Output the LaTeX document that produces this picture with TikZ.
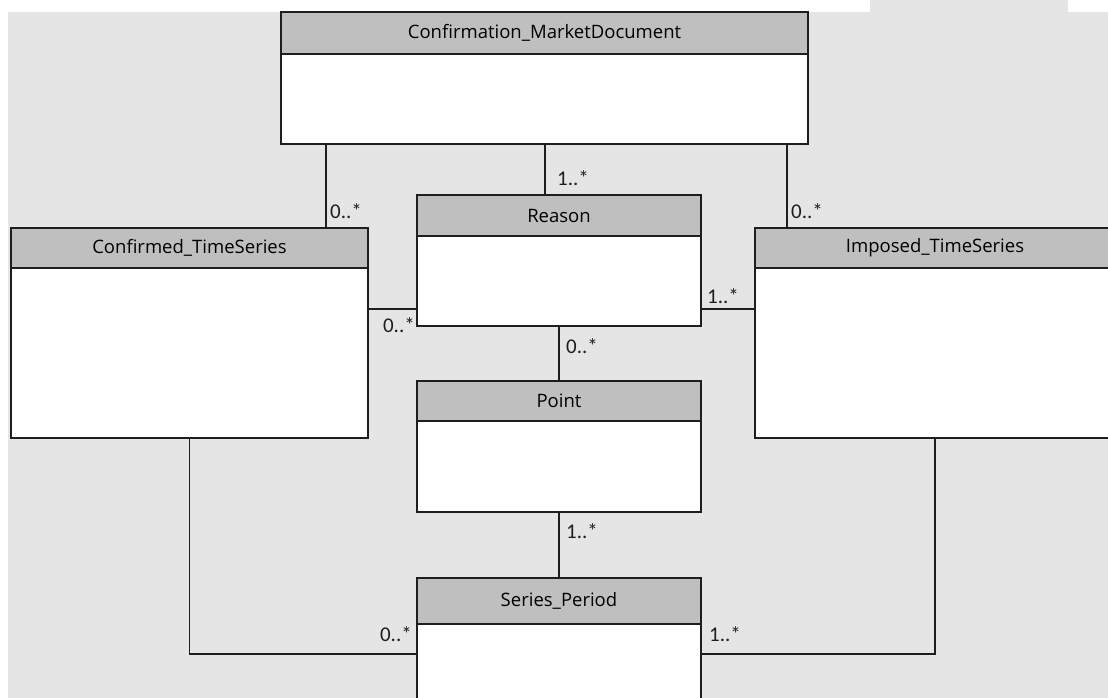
\documentclass[tikz,border=0pt]{standalone}
\usepackage{fontspec}
\setmainfont{Open Sans}
\newfontfamily\multfont{Carlito}
\definecolor{bggray}{HTML}{E5E5E5}
\definecolor{headgray}{HTML}{BFBFBF}
\definecolor{linegray}{HTML}{1E1E1E}

\begin{document}
\begin{tikzpicture}[x=1pt,y=-1pt,
  classhead/.style={draw=linegray, line width=1.5pt, fill=headgray, anchor=north west,
    inner sep=0pt, outer sep=0pt, font=\fontsize{18.5}{22}\selectfont},
  classbody/.style={draw=linegray, line width=1.5pt, fill=white, anchor=north west,
    inner sep=0pt, outer sep=0pt},
  assoc/.style={draw=linegray, line width=1.2pt},
  mult/.style={font=\multfont\fontsize{21}{24}\selectfont, text=linegray, inner sep=0pt}]
        \useasboundingbox (0,0) rectangle (1108,698);
        \clip (0,0) rectangle (1108,698);
        \fill[bggray] (8,12) rectangle (1108,698);
        \fill[bggray] (870,0) rectangle (1068,12);
        % classes
        \node[classhead, minimum width=527pt, minimum height=42pt] (cmdhead) at (281,12) {Confirmation\_MarketDocument};
        \node[classbody, minimum width=527pt, minimum height=90pt] (cmdbody) at (cmdhead.south west) {};
        \node[classhead, minimum width=284pt, minimum height=41pt] (reasonhead) at (417,195) {Reason};
        \node[classbody, minimum width=284pt, minimum height=90pt] (reasonbody) at (reasonhead.south west) {};
        \node[classhead, minimum width=357pt, minimum height=40pt] (confhead) at (11,228) {Confirmed\_TimeSeries};
        \node[classbody, minimum width=357pt, minimum height=170pt] (confbody) at (confhead.south west) {};
        \node[classhead, minimum width=360pt, minimum height=40pt] (imphead) at (755,228) {Imposed\_TimeSeries};
        \node[classbody, minimum width=360pt, minimum height=170pt] (impbody) at (imphead.south west) {};
        \node[classhead, minimum width=284pt, minimum height=40pt] (pointhead) at (417,381) {Point};
        \node[classbody, minimum width=284pt, minimum height=91pt] (pointbody) at (pointhead.south west) {};
        \node[classhead, minimum width=284pt, minimum height=46pt] (serieshead) at (417,578) {Series\_Period};
        \node[classbody, minimum width=284pt, minimum height=90pt] (seriesbody) at (serieshead.south west) {};
        % connector ends
        \coordinate (cmdconf) at ([xshift=45pt]cmdbody.south west);
        \coordinate (cmdreason) at ([xshift=264pt]cmdbody.south west);
        \coordinate (cmdimp) at ([xshift=506pt]cmdbody.south west);
        \coordinate (reasonl) at ([yshift=17pt]reasonbody.south west);
        \coordinate (reasonr) at ([yshift=17pt]reasonbody.south east);
        \coordinate (seriesl) at ([yshift=15pt]seriesbody.west);
        \coordinate (seriesr) at ([yshift=15pt]seriesbody.east);
        % associations
        \draw[assoc] (cmdconf) -- (cmdconf |- confhead.north);
        \draw[assoc] (cmdreason) -- (cmdreason |- reasonhead.north);
        \draw[assoc] (cmdimp) -- (cmdimp |- imphead.north);
        \draw[assoc] (reasonl) -- (reasonl -| confbody.east);
        \draw[assoc] (reasonr) -- (reasonr -| impbody.west);
        \draw[assoc] (reasonbody.south) -- (pointhead.north);
        \draw[assoc] (pointbody.south) -- (serieshead.north);
        \draw[assoc] (confbody.south) |- (seriesl);
        \draw[assoc] (impbody.south) |- (seriesr);
        % multiplicities
        \node[mult, anchor=west] (mcmdconf) at (330,211) {0..*};
        \node[mult, anchor=west] (mcmdreason) at (557,178) {1..*};
        \node[mult, anchor=west] (mcmdimp) at (791,211) {0..*};
        \node[mult, anchor=east] (mconfreason) at (415,325) {0..*};
        \node[mult, anchor=west] (mreasonimp) at (707,296) {1..*};
        \node[mult, anchor=west] (mreasonpoint) at (566,346) {0..*};
        \node[mult, anchor=west] (mpointseries) at (566,531) {1..*};
        \node[mult, anchor=east] (mconfseries) at (412,634) {0..*};
        \node[mult, anchor=west] (mimpseries) at (709,634) {1..*};
\end{tikzpicture}
\end{document}
